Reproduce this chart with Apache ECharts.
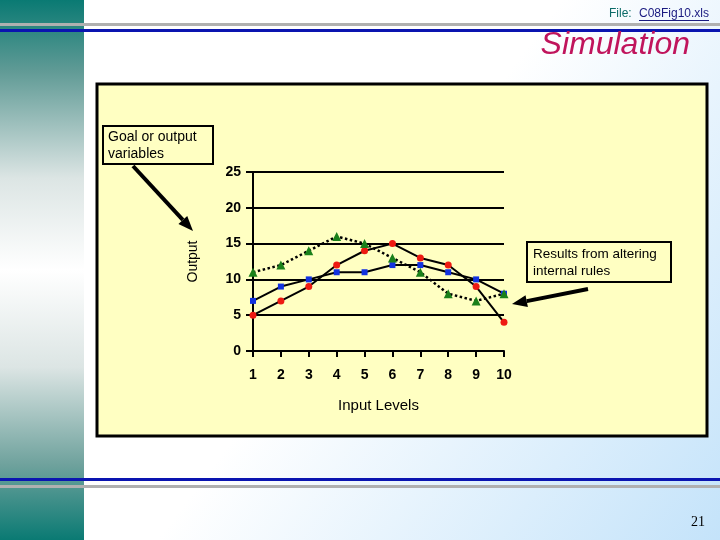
<!DOCTYPE html>
<html><head><meta charset="utf-8">
<script src="https://cdn.jsdelivr.net/npm/echarts@6/dist/echarts.min.js"></script>
<style>html,body{margin:0;padding:0;background:#fff}#c{width:720px;height:540px}</style>
</head><body><div id="c"></div><script>
// ---- data ----
const categories = ['1','2','3','4','5','6','7','8','9','10'];
const redValues = [5,7,9,12,14,15,13,12,9,4];
const blueValues = [7,9,10,11,11,12,12,11,10,8];
const greenValues = [11,12,14,16,15,13,11,8,7,8];
const yMin = 0, yMax = 25, yInterval = 5;
const xAxisName = 'Input Levels';
const yAxisName = 'Output';
const titleText = 'Simulation';
const fileLabel = 'File:';
const fileName = 'C08Fig10.xls';
const pageNumber = '21';
const note1 = ['Goal or output', 'variables'];
const note2 = ['Results from altering', 'internal rules'];

// ---- helpers ----
function arrow(x1, y1, x2, y2, headLen, headHalf, w) {
  const dx = x2 - x1, dy = y2 - y1, L = Math.hypot(dx, dy);
  const ux = dx / L, uy = dy / L, px = -uy, py = ux;
  const bx = x2 - ux * headLen, by = y2 - uy * headLen;
  return [
    {type: 'line', z: 50, shape: {x1: x1, y1: y1, x2: bx, y2: by}, style: {stroke: '#000', lineWidth: w}},
    {type: 'polygon', z: 50, shape: {points: [[x2, y2], [bx + px * headHalf, by + py * headHalf], [bx - px * headHalf, by - py * headHalf]]}, style: {fill: '#000'}}
  ];
}
const F = 'Liberation Sans, Arial, sans-serif';
const yellow = '#ffffc2';

const graphics = [
  // slide background
  {type: 'rect', z: -100, shape: {x: 0, y: 0, width: 720, height: 540},
   style: {fill: new echarts.graphic.LinearGradient(0, 0, 1, 1, [
     {offset: 0, color: '#ffffff'}, {offset: 0.5, color: '#ffffff'}, {offset: 1, color: '#c4e3fa'}])}},
  // left strip
  {type: 'rect', z: -99, shape: {x: 0, y: 0, width: 84, height: 540},
   style: {fill: new echarts.graphic.LinearGradient(0, 0, 0, 1, [
     {offset: 0, color: '#0a7a73'}, {offset: 0.13, color: '#5f9a95'}, {offset: 0.33, color: '#dce5e4'},
     {offset: 0.5, color: '#ffffff'}, {offset: 0.68, color: '#dce5e4'}, {offset: 0.86, color: '#6fa29d'},
     {offset: 1, color: '#0a7a73'}])}},
  // header / footer rules
  {type: 'rect', z: -98, shape: {x: 0, y: 23, width: 720, height: 3}, style: {fill: '#b0b0b0'}},
  {type: 'rect', z: -98, shape: {x: 0, y: 29, width: 720, height: 3}, style: {fill: '#0a14b0'}},
  {type: 'rect', z: -98, shape: {x: 0, y: 478, width: 720, height: 3}, style: {fill: '#0a14b0'}},
  {type: 'rect', z: -98, shape: {x: 0, y: 485, width: 720, height: 3}, style: {fill: '#b0b0b0'}},
  // chart panel
  {type: 'rect', z: -97, shape: {x: 97, y: 84, width: 610, height: 352},
   style: {fill: yellow, stroke: '#000', lineWidth: 3}},
  // header texts
  {type: 'text', z: 50, x: 690, y: 45, style: {text: titleText, fill: '#c0145c', font: 'italic 32px ' + F, textAlign: 'right', textVerticalAlign: 'middle'}},
  {type: 'text', z: 50, x: 609, y: 14, style: {text: fileLabel, fill: '#0b6b68', font: '12px ' + F, textAlign: 'left', textVerticalAlign: 'middle'}},
  {type: 'text', z: 50, x: 639, y: 14, style: {text: fileName, fill: '#1a1a80', font: '12px ' + F, textAlign: 'left', textVerticalAlign: 'middle'}},
  {type: 'rect', z: 50, shape: {x: 639, y: 20, width: 70, height: 1}, style: {fill: '#1a1a80'}},
  {type: 'text', z: 50, x: 705, y: 522, style: {text: pageNumber, fill: '#000', font: '14px "Liberation Serif", serif', textAlign: 'right', textVerticalAlign: 'middle'}},
  // note boxes
  {type: 'rect', z: 40, shape: {x: 103, y: 126, width: 110, height: 38}, style: {fill: yellow, stroke: '#000', lineWidth: 2}},
  {type: 'text', z: 50, x: 108, y: 137, style: {text: note1[0], fill: '#000', font: '14px ' + F, textVerticalAlign: 'middle'}},
  {type: 'text', z: 50, x: 108, y: 154, style: {text: note1[1], fill: '#000', font: '14px ' + F, textVerticalAlign: 'middle'}},
  {type: 'rect', z: 40, shape: {x: 527, y: 242, width: 144, height: 40}, style: {fill: yellow, stroke: '#000', lineWidth: 2}},
  {type: 'text', z: 50, x: 533, y: 254, style: {text: note2[0], fill: '#000', font: '13.5px ' + F, textVerticalAlign: 'middle'}},
  {type: 'text', z: 50, x: 533, y: 271, style: {text: note2[1], fill: '#000', font: '13.5px ' + F, textVerticalAlign: 'middle'}}
].concat(arrow(133, 166, 193, 231, 15, 6, 4)).concat(arrow(588, 289, 512, 304, 15, 6, 4));

const chart = echarts.init(document.getElementById('c'), null, {renderer: 'canvas'});
chart.setOption({
  animation: false,
  backgroundColor: 'transparent',
  graphic: graphics,
  grid: {left: 253, right: 216, top: 172, bottom: 189, containLabel: false},
  xAxis: {
    type: 'category', data: categories, boundaryGap: false,
    name: xAxisName, nameLocation: 'middle', nameGap: 47,
    nameTextStyle: {color: '#000', fontFamily: F, fontSize: 15},
    axisLine: {lineStyle: {color: '#000', width: 2}},
    axisTick: {show: true, length: 6, lineStyle: {color: '#000', width: 2}},
    axisLabel: {color: '#000', fontFamily: F, fontSize: 14, fontWeight: 'bold', margin: 17},
    splitLine: {show: false}
  },
  yAxis: {
    type: 'value', min: yMin, max: yMax, interval: yInterval,
    name: yAxisName, nameLocation: 'middle', nameGap: 53, nameRotate: 90,
    nameTextStyle: {color: '#000', fontFamily: F, fontSize: 14},
    axisLine: {show: true, lineStyle: {color: '#000', width: 2}},
    axisTick: {show: true, length: 7, lineStyle: {color: '#000', width: 2}},
    axisLabel: {color: '#000', fontFamily: F, fontSize: 14, fontWeight: 'bold', margin: 12},
    splitLine: {show: true, lineStyle: {color: '#000', width: 2}}
  },
  series: [
    {type: 'line', data: redValues, symbol: 'circle', symbolSize: 7,
     itemStyle: {color: '#ee1a12'}, lineStyle: {color: '#000', width: 2}, z: 3},
    {type: 'line', data: blueValues, symbol: 'rect', symbolSize: 6,
     itemStyle: {color: '#1232e0'}, lineStyle: {color: '#000', width: 2}, z: 4},
    {type: 'line', data: greenValues, symbol: 'triangle', symbolSize: 9,
     itemStyle: {color: '#1a801a'}, lineStyle: {color: '#000', width: 2.5, type: 'dotted'}, z: 5}
  ]
});
</script></body></html>
